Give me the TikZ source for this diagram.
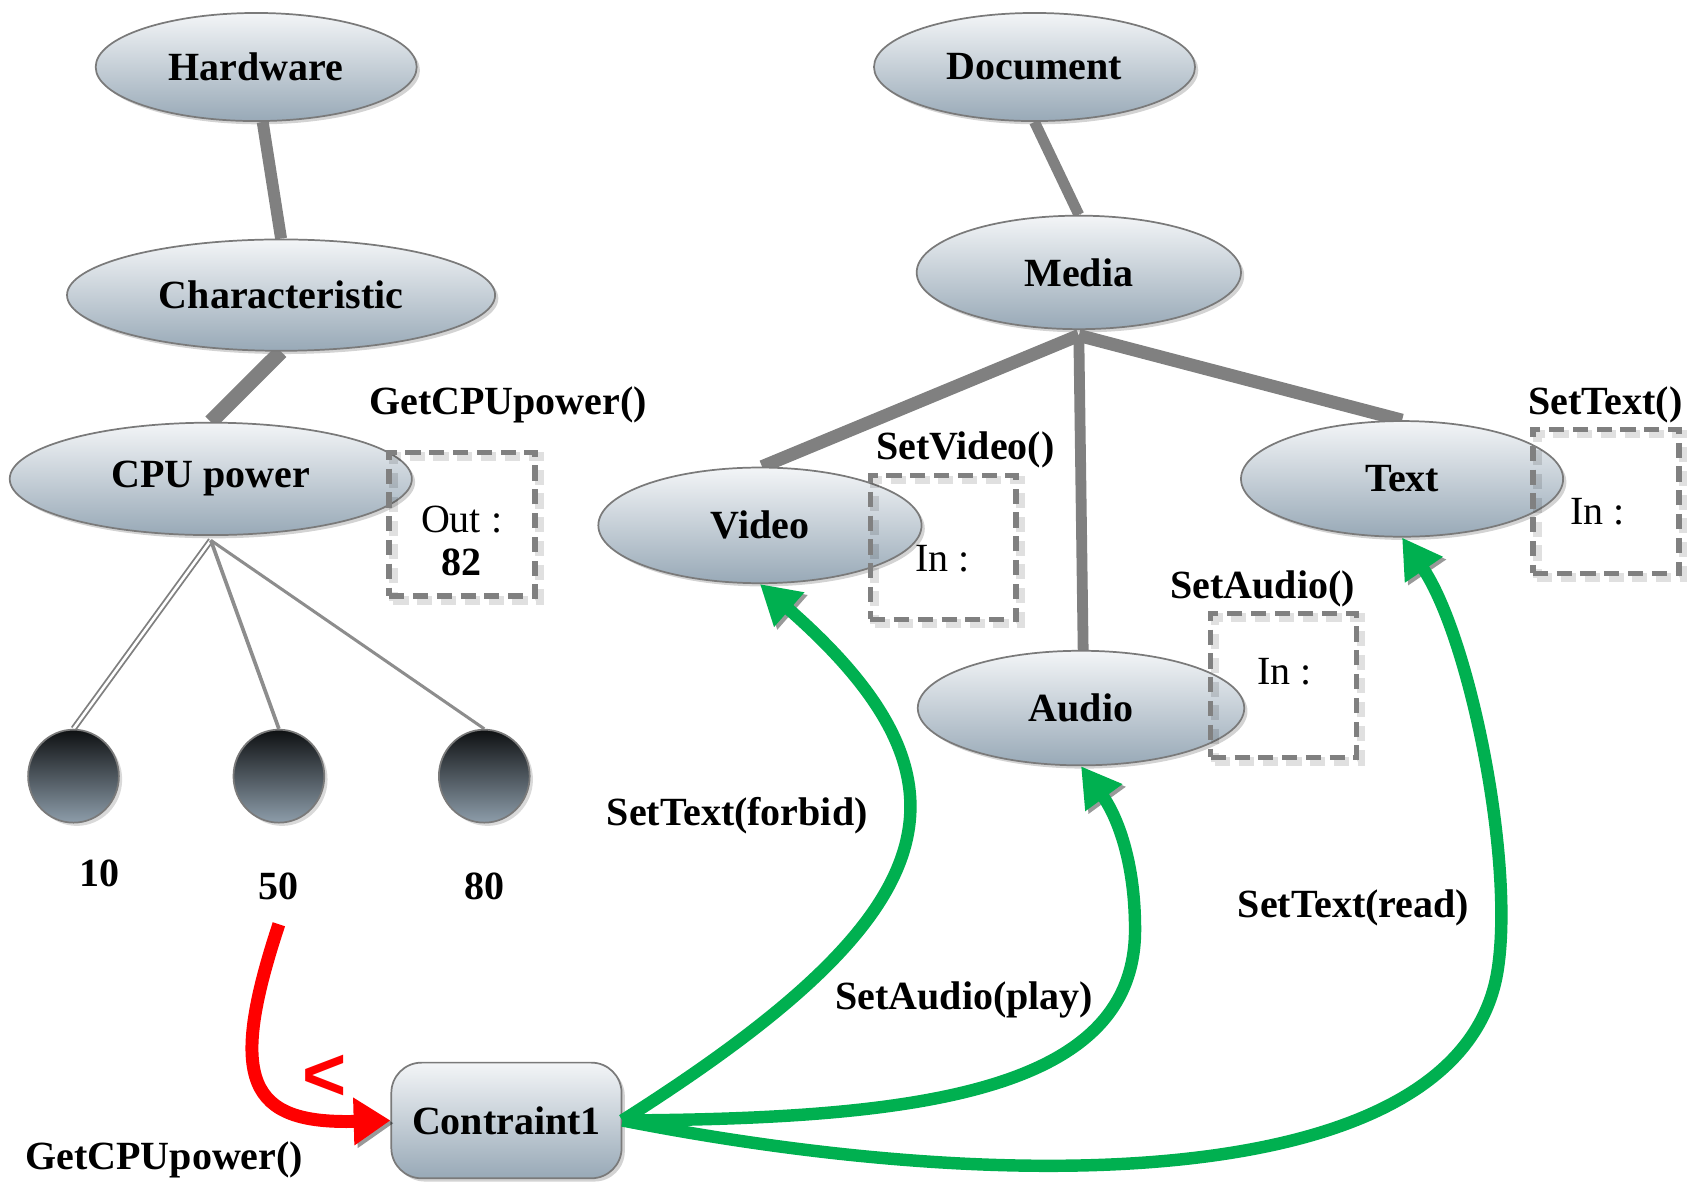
\documentclass[tikz,border=0pt]{standalone}
\usepackage{fontspec}
\setmainfont{Liberation Serif}
\newfontfamily\signfont{Liberation Sans}
\usetikzlibrary{shapes.geometric,arrows.meta,shadows}
\definecolor{nodetop}{HTML}{F3F5F7}
\definecolor{nodebot}{HTML}{98A9B7}
\definecolor{edgegray}{HTML}{7A7A7A}
\definecolor{linkgray}{HTML}{808080}
\definecolor{okgreen}{HTML}{00B050}
\definecolor{balltop}{HTML}{0E1012}
\definecolor{ballbot}{HTML}{8D9DAA}
\pgfdeclarelayer{bg}
\pgfsetlayers{bg,main}

\begin{document}
\begin{tikzpicture}[x=1pt,y=-1pt,
  txt/.style={font=\fontsize{37}{40}\selectfont, inner sep=0pt},
  lbl/.style={font=\fontsize{37}{40}\selectfont\bfseries, inner sep=0pt},
  concept/.style={ellipse, draw=edgegray, line width=1.6pt,
    top color=nodetop, bottom color=nodebot, inner sep=0pt,
    font=\fontsize{37}{40}\selectfont\bfseries,
    drop shadow={shadow xshift=3pt, shadow yshift=-3pt, opacity=0.35}},
  ball/.style={ellipse, draw=edgegray, line width=1.6pt,
    top color=balltop, bottom color=ballbot, inner sep=0pt,
    minimum width=84pt, minimum height=86pt,
    drop shadow={shadow xshift=3pt, shadow yshift=-3pt, opacity=0.3}},
  slot/.style={rectangle, draw=linkgray, line width=5pt,
    dash pattern=on 14pt off 8pt, inner sep=0pt,
    minimum width=135pt, minimum height=133pt,
    preaction={draw=black, opacity=0.12, line width=8pt,
      dash pattern=on 14pt off 8pt,
      transform canvas={shift={(4pt,-4pt)}}}},
  shade line/.style={preaction={draw=black, opacity=0.4,
      transform canvas={shift={(3pt,-2.5pt)}}}},
  tree/.style={draw=linkgray, line width=12pt, shade line},
  leaf/.style={draw=linkgray!90, line width=2.8pt},
  flow/.style={draw=okgreen, line width=11.5pt, shade line,
    -{Triangle[length=36pt,width=40pt]}},
]
\useasboundingbox (0,0) rectangle (1568,1095);

% hardware branch
\node[concept, minimum width=297pt, minimum height=100pt] (hw)   at (237,62)  {Hardware};
\node[concept, minimum width=396pt, minimum height=103pt] (char) at (260,273) {Characteristic};
\node[concept, minimum width=372pt, minimum height=104pt] (cpu)  at (195,443) {CPU power};

\node[ball] (b10) at (68,718)  {};
\node[ball] (b50) at (258,718) {};
\node[ball] (b80) at (448,718) {};
\node[lbl] (v10) at (92,808)  {10};
\node[lbl] (v50) at (258,820) {50};
\node[lbl] (v80) at (448,820) {80};

\node[slot] (outbox) at (427.5,485) {};
\node[txt] (outtxt) at (427,481) {Out :};
\node[lbl] (outval) at (427,520) {82};
\node[lbl] (getcpu) at (470,375) {GetCPUpower()};

% document branch
\node[concept, minimum width=297pt, minimum height=100pt] (doc)   at (957,62)   {Document};
\node[concept, minimum width=300pt, minimum height=105pt] (media) at (998,252)  {Media};
\node[concept, minimum width=299pt, minimum height=107pt] (video) at (703,486)  {Video};
\node[concept, minimum width=298pt, minimum height=107pt] (text)  at (1297,443) {Text};
\node[concept, minimum width=302pt, minimum height=106pt] (audio) at (1000,655) {Audio};

\node[slot] (vbox) at (872.5,506.5) {};
\node[txt] (vin) at (872,517) {In :};
\node[lbl] (setvideo) at (893,416) {SetVideo()};

\node[slot] (tbox) at (1485.5,464) {};
\node[txt] (tin) at (1478,473) {In :};
\node[lbl] (settext) at (1485,375) {SetText()};

\node[slot] (abox) at (1187.5,634) {};
\node[txt] (ain) at (1188,621) {In :};
\node[lbl] (setaudio) at (1168,545) {SetAudio()};

% constraint
\node[rectangle, rounded corners=28pt, draw=edgegray, line width=1.6pt,
  top color=nodetop, bottom color=nodebot, inner sep=0pt,
  minimum width=213pt, minimum height=107pt,
  font=\fontsize{37}{40}\selectfont\bfseries,
  drop shadow={shadow xshift=3pt, shadow yshift=-3pt, opacity=0.35}]
  (c1) at (468.5,1036.5) {Contraint1};
\node[lbl] (getcpu2) at (152,1073) {GetCPUpower()};
\node[font=\signfont\fontsize{70}{70}\selectfont\bfseries, text=red, inner sep=0pt] (lt) at (300,997) {<};

% tree edges, kept under the nodes
\begin{pgfonlayer}{bg}
  \draw[tree, line width=11pt] ([xshift=6pt]hw.south) -- (char.north);
  \draw[tree, line width=14pt] (char.south) -- (cpu.north);
  \draw[tree, line width=10pt] (doc.south) -- (media.north);
  \draw[tree] ([yshift=-5pt]media.south) -- ([xshift=2pt]video.north);
  \draw[tree, line width=10pt] ([yshift=-5pt]media.south) -- ([xshift=2pt]audio.north);
  \draw[tree] ([yshift=-5pt]media.south) -- (text.north);
  \draw[draw=linkgray, line width=1.7pt, double=white, double distance=2.4pt]
    ([yshift=-4pt]cpu.south) -- (b10.north);
  \draw[leaf, line width=3.4pt] ([yshift=-4pt]cpu.south) -- (b50.north);
  \draw[leaf] ([yshift=-4pt]cpu.south) -- (b80.north);
\end{pgfonlayer}

% constraint links
\coordinate (r0) at (258,855);
\draw[red, line width=12pt, shade line, -{Triangle[length=34pt,width=42pt]}]
  (r0) .. controls (210,1000) and (230,1040) .. (c1.west);

\draw[flow] (c1.east) .. controls (870,850) and (920,730) .. (video.south);
\draw[flow] (c1.east) .. controls (850,1035) and (1050,1010) .. (1050,860)
  .. controls (1050,790) and (1030,750) .. (audio.south);
\draw[flow] (c1.east) .. controls (950,1110) and (1350,1100) .. (1385,900)
  .. controls (1402,800) and (1360,590) .. (text.south);

\node[lbl] (lforbid) at (682,755) {SetText(forbid)};
\node[lbl] (lplay) at (892,925) {SetAudio(play)};
\node[lbl] (lread) at (1252,840) {SetText(read)};
\end{tikzpicture}
\end{document}
